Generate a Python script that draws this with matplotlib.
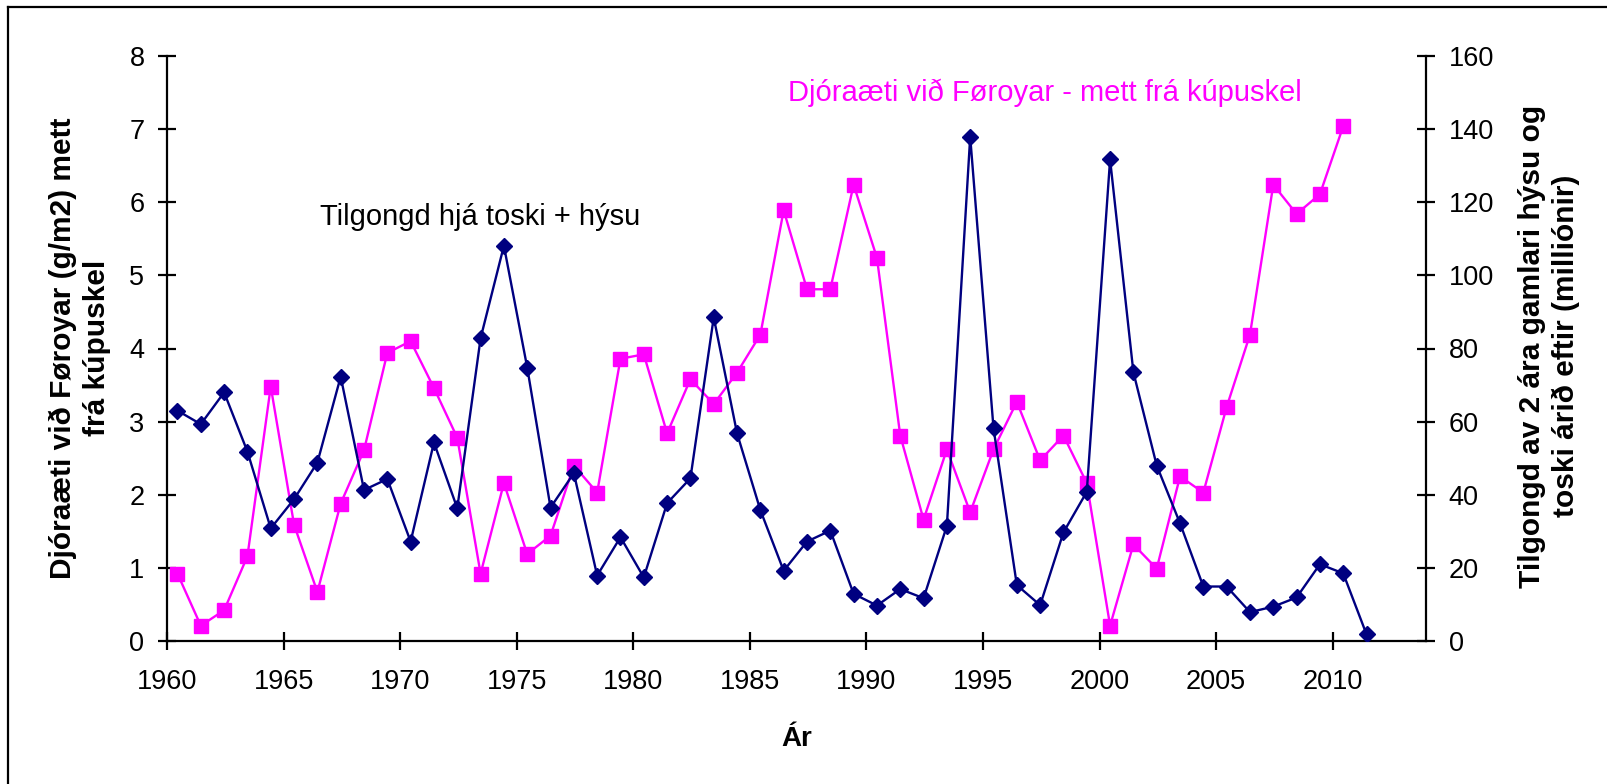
import matplotlib
matplotlib.use("Agg")
import matplotlib.pyplot as plt
from matplotlib.lines import Line2D

plt.rcParams['font.family'] = ['Liberation Sans', 'DejaVu Sans']

# Djóraæti við Føroyar (g/m2), 1960-2010, left axis
diet_years = list(range(1960, 2011))
diet_vals = [0.92, 0.21, 0.42, 1.16, 3.48, 1.59, 0.67, 1.88, 2.61, 3.94,
             4.10, 3.46, 2.78, 0.92, 2.16, 1.19, 1.44, 2.40, 2.03, 3.86,
             3.92, 2.84, 3.58, 3.24, 3.67, 4.19, 5.89, 4.81, 4.81, 6.24,
             5.24, 2.81, 1.66, 2.62, 1.76, 2.62, 3.27, 2.47, 2.81, 2.16,
             0.21, 1.32, 0.99, 2.25, 2.03, 3.20, 4.19, 6.24, 5.84, 6.11,
             7.04]

# Tilgongd hjá toski + hýsu (milliónir), 1960-2011, right axis
recr_years = list(range(1960, 2012))
recr_vals = [63.0, 59.3, 68.0, 51.8, 30.8, 38.8, 48.8, 72.3, 41.3, 44.3,
             27.2, 54.3, 36.3, 82.8, 108.1, 74.8, 36.5, 45.9, 17.9, 28.4,
             17.4, 37.7, 44.5, 88.5, 56.8, 35.8, 19.2, 27.2, 30.2, 12.9,
             9.7, 14.2, 11.7, 31.5, 137.9, 58.2, 15.3, 9.8, 29.7, 40.8,
             131.7, 73.5, 48.0, 32.2, 14.9, 14.9, 7.9, 9.4, 11.9, 21.0,
             18.5, 1.8]

# points sit a bit to the right of the year tick (Excel style)
offset = 0.45

fig = plt.figure(figsize=(16.08, 7.84), dpi=100)
ax = fig.add_axes([167/1608, 1-641/784, (1426-167)/1608, (641-56)/784])
ax2 = ax.twinx()

ax.plot([y + offset for y in diet_years], diet_vals, color='#FF00FF', lw=1.7,
        marker='s', ms=9.5, mec='#FF00FF', mfc='#FF00FF')
ax2.plot([y + offset for y in recr_years], recr_vals, color='#000080', lw=1.7,
         marker='D', ms=8.5, mec='#000080', mfc='#000080')

ax.set_xlim(1960, 2014)
ax.set_ylim(0, 8)
ax2.set_ylim(0, 160)
ax.set_xticks(range(1960, 2011, 5))
ax.set_yticks(range(0, 9))
ax2.set_yticks(range(0, 161, 20))

for a in (ax, ax2):
    for s in a.spines.values():
        s.set_linewidth(1.6)
    a.spines['top'].set_visible(False)
ax.spines['right'].set_visible(False)
ax2.spines['left'].set_visible(False)
ax2.spines['bottom'].set_visible(False)

ax.tick_params(axis='x', direction='inout', length=12.5, width=1.6, labelsize=19.5, pad=14)
ax.tick_params(axis='y', direction='inout', length=12.5, width=1.6, labelsize=19.5, pad=10)
ax2.tick_params(axis='y', direction='inout', length=12.5, width=1.6, labelsize=19.5, pad=10)

ax.set_xlabel('Ár', fontsize=20, fontweight='bold', labelpad=22)

fig.text(80/1608, 1-348/784, 'Djóraæti við Føroyar (g/m2) mett\nfrá kúpuskel',
         rotation=90, ha='center', va='center', ma='center',
         fontsize=21.5, fontweight='bold', linespacing=1.3)
fig.text(1549/1608, 1-346/784, 'Tilgongd av 2 ára gamlari hýsu og\ntoski árið eftir (milliónir)',
         rotation=90, ha='center', va='center', ma='center',
         fontsize=21.5, fontweight='bold', linespacing=1.3)

# series labels inside the plot
ax2.text((320-167)/1259, (641-217)/585, 'Tilgongd hjá toski + hýsu',
         transform=ax.transAxes, ha='left', va='center', fontsize=21, color='black')
ax2.text((788-167)/1259, (641-93)/585, 'Djóraæti við Føroyar - mett frá kúpuskel',
         transform=ax.transAxes, ha='left', va='center', fontsize=21, color='#FF00FF')

# chart area frame (only top and left edges visible)
fig.add_artist(Line2D([8/1608, 8/1608], [0, 1-7/784], transform=fig.transFigure,
                      color='black', lw=1.6))
fig.add_artist(Line2D([8/1608, 1], [1-7/784, 1-7/784], transform=fig.transFigure,
                      color='black', lw=1.6))

fig.savefig('out.png', dpi=100)
plt.close(fig)
